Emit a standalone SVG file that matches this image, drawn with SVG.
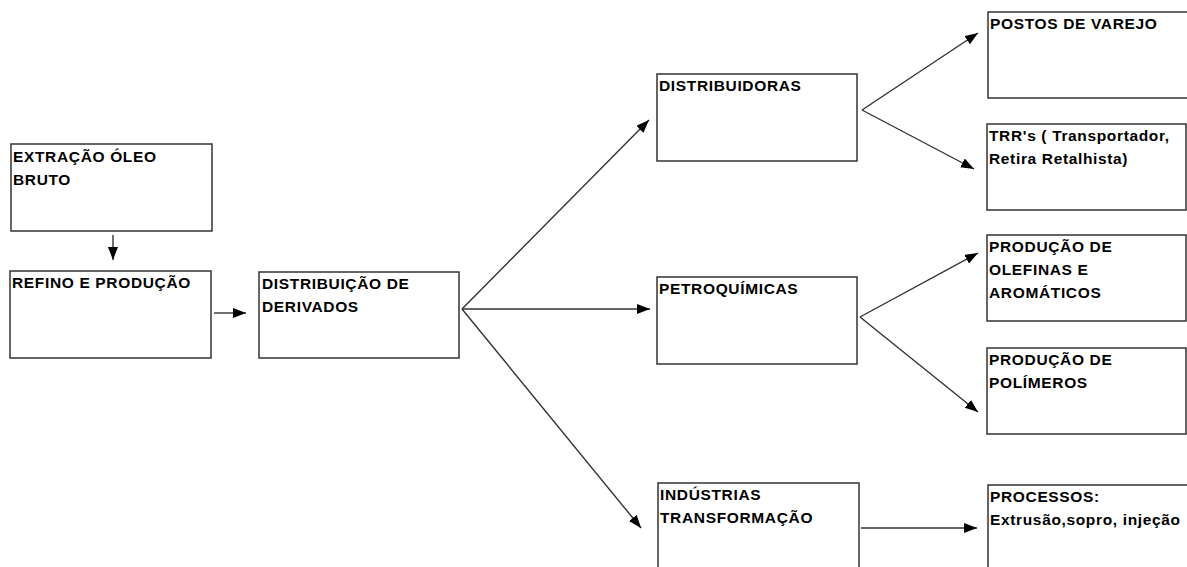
<svg xmlns="http://www.w3.org/2000/svg" width="1187" height="567" viewBox="0 0 1187 567">
<style>
.box{fill:#fff;stroke:#333;stroke-width:1.5}
.t{font-family:"Liberation Sans",Arial,sans-serif;font-weight:bold;font-size:15.5px;letter-spacing:0.65px;fill:#000}
.c{fill:none;stroke:#333;stroke-width:1.4}
</style>
<defs>
<marker id="ah" markerUnits="userSpaceOnUse" markerWidth="14" markerHeight="11" refX="13" refY="5" orient="auto">
<path d="M0,0 L13,5 L0,10 z" fill="#000"/>
</marker>
</defs>
<rect width="1187" height="567" fill="#fff"/>
<g id="connectors">
<line class="c" x1="113" y1="235" x2="113" y2="260" marker-end="url(#ah)"/>
<line class="c" x1="214" y1="313" x2="246" y2="313" marker-end="url(#ah)"/>
<line class="c" x1="462" y1="309" x2="649" y2="120" marker-end="url(#ah)"/>
<line class="c" x1="462" y1="309" x2="650" y2="309" marker-end="url(#ah)"/>
<line class="c" x1="462" y1="309" x2="641" y2="528" marker-end="url(#ah)"/>
<line class="c" x1="862" y1="110" x2="978" y2="33" marker-end="url(#ah)"/>
<line class="c" x1="862" y1="110" x2="974" y2="169" marker-end="url(#ah)"/>
<line class="c" x1="860" y1="317" x2="978" y2="253" marker-end="url(#ah)"/>
<line class="c" x1="860" y1="317" x2="978" y2="412" marker-end="url(#ah)"/>
<line class="c" x1="861" y1="528" x2="977" y2="528" marker-end="url(#ah)"/>
</g>
<g id="n-extracao">
<rect class="box" x="11" y="144" width="201" height="87"/>
<text class="t" x="13" y="162">EXTRAÇÃO ÓLEO</text>
<text class="t" x="13" y="185">BRUTO</text>
</g>
<g id="n-refino">
<rect class="box" x="10" y="271" width="201" height="87"/>
<text class="t" x="12" y="288">REFINO E PRODUÇÃO</text>
</g>
<g id="n-distribuicao">
<rect class="box" x="259" y="272" width="200" height="86"/>
<text class="t" x="262" y="289">DISTRIBUIÇÃO DE</text>
<text class="t" x="262" y="312">DERIVADOS</text>
</g>
<g id="n-distribuidoras">
<rect class="box" x="657" y="74" width="200" height="87"/>
<text class="t" x="659" y="91">DISTRIBUIDORAS</text>
</g>
<g id="n-petroquimicas">
<rect class="box" x="657" y="277" width="200" height="87"/>
<text class="t" x="659" y="294">PETROQUÍMICAS</text>
</g>
<g id="n-industrias">
<rect class="box" x="658" y="483" width="201" height="100"/>
<text class="t" x="660" y="500">INDÚSTRIAS</text>
<text class="t" x="660" y="523">TRANSFORMAÇÃO</text>
</g>
<g id="n-postos">
<rect class="box" x="988" y="12" width="210" height="86"/>
<text class="t" x="990" y="29">POSTOS DE VAREJO</text>
</g>
<g id="n-trr">
<rect class="box" x="987" y="124" width="199" height="86"/>
<text class="t" x="989" y="141">TRR's ( Transportador,</text>
<text class="t" x="989" y="164">Retira Retalhista)</text>
</g>
<g id="n-olefinas">
<rect class="box" x="987" y="235" width="199" height="86"/>
<text class="t" x="989" y="252">PRODUÇÃO DE</text>
<text class="t" x="989" y="275">OLEFINAS E</text>
<text class="t" x="989" y="298">AROMÁTICOS</text>
</g>
<g id="n-polimeros">
<rect class="box" x="987" y="348" width="199" height="86"/>
<text class="t" x="989" y="365">PRODUÇÃO DE</text>
<text class="t" x="989" y="388">POLÍMEROS</text>
</g>
<g id="n-processos">
<rect class="box" x="988" y="485" width="210" height="100"/>
<text class="t" x="990" y="502">PROCESSOS:</text>
<text class="t" x="990" y="525">Extrusão,sopro, injeção</text>
</g>
</svg>
